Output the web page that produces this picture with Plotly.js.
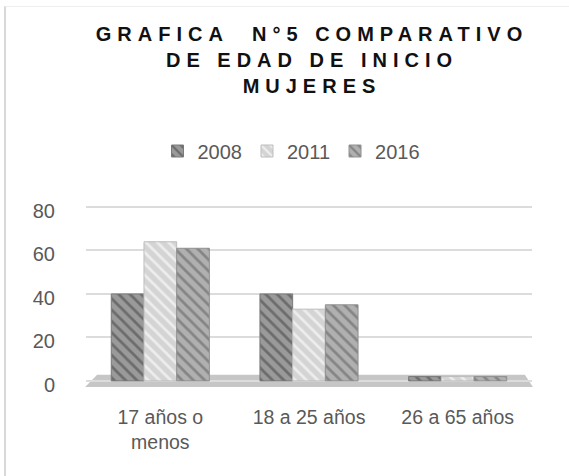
<!DOCTYPE html>
<html>
<head>
<meta charset="utf-8">
<script src="https://cdn.plot.ly/plotly-3.0.1.min.js"></script>
<style>
  html, body { margin: 0; padding: 0; background: #ffffff; }
  #chart { width: 569px; height: 476px; position: relative; }
  #frame { position: absolute; left: 4px; top: 6px; width: 565px; height: 470px;
           border-left: 2px solid #d9d9d9; border-top: 1px solid #eeeeee;
           box-sizing: border-box; pointer-events: none; }
  .gtitle { letter-spacing: 6px; }
</style>
</head>
<body>
<div id="chart"></div>
<div id="frame"></div>
<script>
// ---- data ----
var categories = ["17 años o<br>menos", "18 a 25 años", "26 a 65 años"];
var years = ["2008", "2011", "2016"];
var values2008 = [40, 40, 2];
var values2011 = [64, 33, 2];
var values2016 = [61, 35, 2];
var yTicks = [0, 20, 40, 60, 80];

var seriesValues = [values2008, values2011, values2016];
var fills   = ["#9a9a9a", "#d4d4d4", "#b0b0b0"];
var stripes = ["#6c6c6c", "#ededed", "#858585"];
var edges   = ["#7a7a7a", "#bdbdbd", "#909090"];

var traces = years.map(function (yr, i) {
  return {
    type: "bar",
    name: yr,
    x: categories,
    y: seriesValues[i],
    marker: {
      color: fills[i],
      line: { color: edges[i], width: 1 },
      pattern: { shape: "\\", fgcolor: stripes[i], bgcolor: fills[i], size: 8, solidity: 0.35, fillmode: "replace" }
    },
    hoverinfo: "skip"
  };
});

var font = "Liberation Sans, Arial, sans-serif";

var layout = {
  width: 569,
  height: 476,
  margin: { l: 86, r: 37, t: 205, b: 89 },
  paper_bgcolor: "#ffffff",
  plot_bgcolor: "#ffffff",
  barmode: "group",
  bargap: 0.34,
  bargroupgap: 0,
  showlegend: true,
  title: {
    text: "GRAFICA\u00a0 N°5 COMPARATIVO<br>DE EDAD DE INICIO<br>MUJERES",
    font: { family: font, size: 20, color: "#111111", weight: "bold" },
    xref: "container", x: 312 / 569, xanchor: "center",
    yref: "container", y: 1 - 41 / 476, yanchor: "top"
  },
  legend: {
    orientation: "h",
    xref: "container", x: 291.5 / 569, xanchor: "center",
    yref: "container", y: 1 - 151 / 476, yanchor: "middle",
    font: { family: font, size: 20, color: "#595959" },
    itemwidth: 30,
    traceorder: "normal"
  },
  xaxis: {
    type: "category",
    showgrid: false, zeroline: false, showline: false,
    ticks: "",
    ticklabelstandoff: 16,
    tickfont: { family: font, size: 19.5, color: "#595959" }
  },
  yaxis: {
    range: [-2.8, 80.9],
    tickvals: yTicks,
    ticktext: yTicks.map(String),
    showgrid: true, gridcolor: "#dcdcdc", gridwidth: 2,
    zeroline: false, showline: false,
    ticks: "",
    ticklabelstandoff: 30,
    ticklabelshift: 4,
    tickfont: { family: font, size: 20, color: "#595959" }
  },
  shapes: [{
    type: "path",
    xref: "paper", yref: "y",
    path: "M 0.025,2.8 L 0.984,2.8 L 1.002,-2.8 L -0.002,-2.8 Z",
    fillcolor: "#c6c6c6",
    line: { width: 0 },
    layer: "between"
  }]
};

Plotly.newPlot("chart", traces, layout, { displayModeBar: false, staticPlot: true });
</script>
</body>
</html>
